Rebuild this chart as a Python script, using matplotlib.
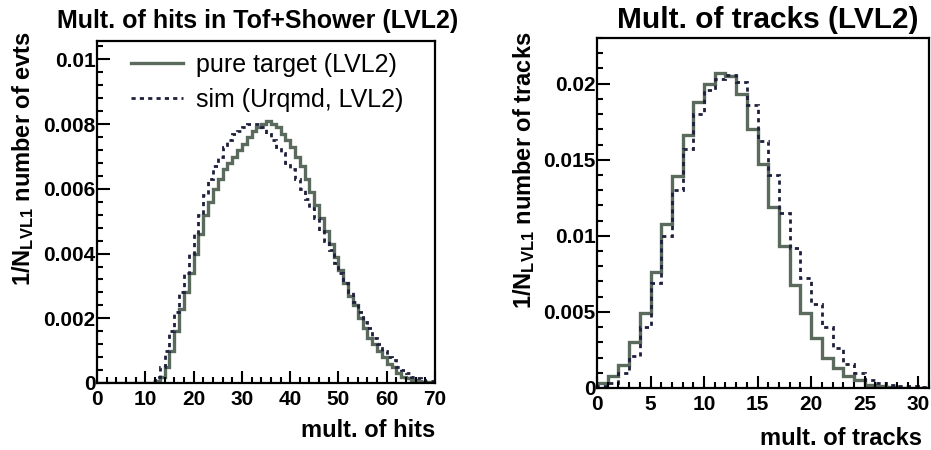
import matplotlib
matplotlib.use("Agg")
import matplotlib.pyplot as plt
import numpy as np
from matplotlib.ticker import MultipleLocator, FuncFormatter

plt.rcParams['font.family'] = ['Liberation Sans', 'DejaVu Sans']
plt.rcParams['font.weight'] = 'bold'
plt.rcParams['mathtext.fontset'] = 'custom'
plt.rcParams['mathtext.rm'] = 'Liberation Sans:bold'
plt.rcParams['mathtext.bf'] = 'Liberation Sans:bold'
plt.rcParams['mathtext.default'] = 'rm'

# hits in Tof+Shower, bins of 1 from 0 to 70
hits_edges = np.arange(0, 71)
hits_pure = [0, 0, 0, 0, 0, 0, 0, 0, 0, 0,
             0, 0, 0.00005, 0.0002, 0.0005, 0.0010, 0.0016, 0.0023, 0.0028, 0.0034,
             0.0040, 0.0046, 0.0052, 0.0056, 0.0060, 0.0063, 0.0066, 0.0068, 0.0070, 0.0072,
             0.0074, 0.0076, 0.0078, 0.0079, 0.0080, 0.0081, 0.0080, 0.0079, 0.0077, 0.0075,
             0.0073, 0.0070, 0.0067, 0.0063, 0.0059, 0.0055, 0.0051, 0.0047, 0.0043, 0.0039,
             0.0035, 0.0031, 0.0027, 0.0024, 0.0020, 0.0017, 0.0014, 0.0012, 0.0010, 0.0008,
             0.0006, 0.0005, 0.0003, 0.0002, 0.00015, 0.0001, 0.00005, 0.00002, 0.00002, 0.00002]
hits_sim = [0.00001, 0.00001, 0.00001, 0.00001, 0.00001, 0.00001, 0.00001, 0.00001, 0.00001, 0.00001,
            0.00001, 0.00005, 0.0002, 0.0005, 0.0010, 0.0016, 0.0022, 0.0028, 0.0034, 0.0040,
            0.0046, 0.0052, 0.0058, 0.0063, 0.0067, 0.0070, 0.0073, 0.0075, 0.0077, 0.0078,
            0.0079, 0.0080, 0.0080, 0.0080, 0.0079, 0.0077, 0.0075, 0.0073, 0.0071, 0.0068,
            0.0066, 0.0063, 0.0060, 0.0057, 0.0054, 0.0051, 0.0047, 0.0044, 0.0041, 0.0037,
            0.0034, 0.0031, 0.0028, 0.0025, 0.0022, 0.0019, 0.0017, 0.0014, 0.0012, 0.0010,
            0.0008, 0.0007, 0.0005, 0.0004, 0.0003, 0.0002, 0.00015, 0.0001, 0.00007, 0.00005]

# tracks, bins of 1 from 0 to 31
trk_edges = np.arange(0, 32)
trk_pure = [0.0003, 0.0008, 0.0015, 0.0030, 0.0049, 0.0076, 0.0108, 0.0139, 0.0166, 0.0188,
            0.0200, 0.0207, 0.0205, 0.0193, 0.0170, 0.0147, 0.0119, 0.0093, 0.0068, 0.0049,
            0.0033, 0.0020, 0.0013, 0.0008, 0.0005, 0.0002, 0.0001, 0.00005, 0.00003, 0.00002,
            0.00001]
trk_sim = [0.0001, 0.0003, 0.0010, 0.0021, 0.0040, 0.0069, 0.0100, 0.0130, 0.0157, 0.0180,
           0.0196, 0.0203, 0.0206, 0.0201, 0.0186, 0.0162, 0.0140, 0.0115, 0.0092, 0.0072,
           0.0055, 0.0040, 0.0026, 0.0016, 0.0010, 0.0005, 0.0003, 0.0002, 0.0001, 0.0001,
           0.00005]

solid_col = '#5a6b5e'
dot_col = '#1e1f3c'

fig = plt.figure(figsize=(9.31, 4.5), dpi=100)
ax1 = fig.add_axes([0.1042, 0.1489, 0.3631, 0.76])
ax2 = fig.add_axes([0.6412, 0.1378, 0.3566, 0.7778])

ax1.stairs(hits_pure, hits_edges, color=solid_col, lw=2.4, label='pure target (LVL2)')
ax1.stairs(hits_sim, hits_edges, color=dot_col, lw=2.0, ls=(0, (1.5, 1.5)), label='sim (Urqmd, LVL2)')
ax2.stairs(trk_pure, trk_edges, color=solid_col, lw=2.4)
ax2.stairs(trk_sim, trk_edges, color=dot_col, lw=2.0, ls=(0, (1.5, 1.5)))

ax1.set_xlim(0, 70)
ax1.set_ylim(0, 0.01057)
ax2.set_xlim(0, 31)
ax2.set_ylim(0, 0.023)

ax1.xaxis.set_major_locator(MultipleLocator(10))
ax1.xaxis.set_minor_locator(MultipleLocator(2))
ax1.yaxis.set_major_locator(MultipleLocator(0.002))
ax1.yaxis.set_minor_locator(MultipleLocator(0.0004))
ax2.xaxis.set_major_locator(MultipleLocator(5))
ax2.xaxis.set_minor_locator(MultipleLocator(1))
ax2.yaxis.set_major_locator(MultipleLocator(0.005))
ax2.yaxis.set_minor_locator(MultipleLocator(0.001))

fmt = FuncFormatter(lambda v, p: '%g' % round(v, 6))
for ax in (ax1, ax2):
    ax.yaxis.set_major_formatter(fmt)
    ax.tick_params(which='both', direction='in', top=False, right=False,
                   width=1.5, labelsize=15)
    ax.tick_params(which='major', length=9)
    ax.tick_params(which='minor', length=4.5)
    ax.tick_params(axis='y', pad=1)
    ax.tick_params(axis='x', pad=5)
    for s in ax.spines.values():
        s.set_linewidth(1.6)

ax1.set_title('Mult. of hits in Tof+Shower (LVL2)', fontsize=18, fontweight='bold', x=0.476, pad=9)
ax2.set_title('Mult. of tracks (LVL2)', fontsize=21.5, fontweight='bold', x=0.514, pad=7)

ax1.set_xlabel('mult. of hits', fontsize=17, fontweight='bold', ha='right')
ax1.xaxis.set_label_coords(1.0, -0.105)
ax2.set_xlabel('mult. of tracks', fontsize=17, fontweight='bold', ha='right')
ax2.xaxis.set_label_coords(0.98, -0.112)

ax1.set_ylabel(r'1/N$_{\mathrm{LVL1}}$ number of evts', fontsize=17, fontweight='bold', ha='right')
ax1.yaxis.set_label_coords(-0.18, 1.03)
ax2.set_ylabel(r'1/N$_{\mathrm{LVL1}}$ number of tracks', fontsize=17, fontweight='bold', ha='right')
ax2.yaxis.set_label_coords(-0.18, 1.017)

ax1.legend(loc='upper left', bbox_to_anchor=(0.07, 0.995), frameon=False,
           prop={'size': 18, 'weight': 'normal'}, handlelength=2.1, handletextpad=0.5,
           labelspacing=0.45, borderaxespad=0)

plt.savefig('out.png', dpi=100)
